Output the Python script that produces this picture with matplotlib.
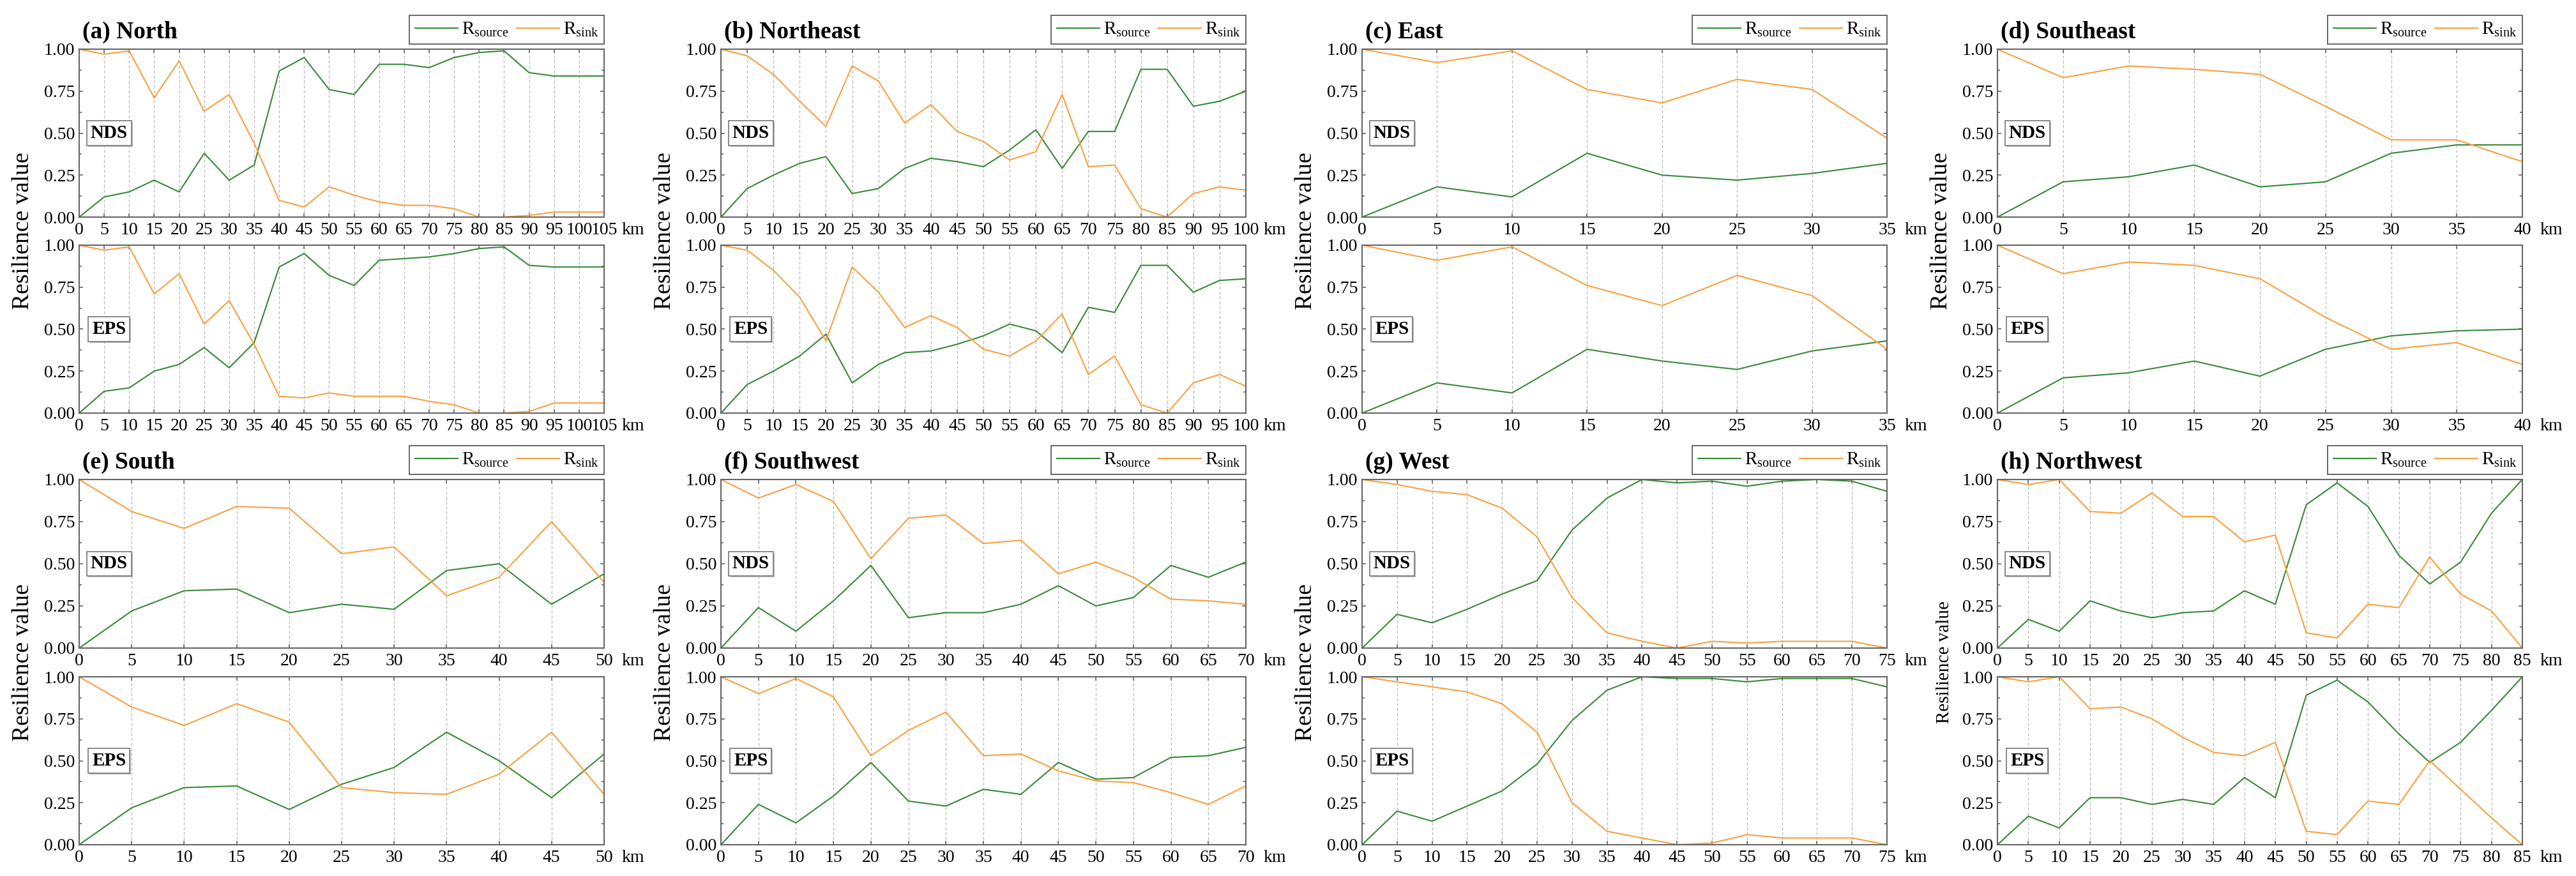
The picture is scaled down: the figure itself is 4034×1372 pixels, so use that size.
import numpy as np
import matplotlib
matplotlib.use("Agg")
import matplotlib.pyplot as plt
from matplotlib.ticker import MultipleLocator, FormatStrFormatter
from matplotlib import patheffects

plt.rcParams['font.family'] = ['Liberation Serif', 'DejaVu Serif']
plt.rcParams['mathtext.fontset'] = 'custom'
plt.rcParams['mathtext.rm'] = 'Liberation Serif'
plt.rcParams['mathtext.it'] = 'Liberation Serif:italic'
plt.rcParams['mathtext.bf'] = 'Liberation Serif:bold'

# ---- data ----
north_km = list(range(0, 110, 5))
north_nds_source = [0.00, 0.12, 0.15, 0.22, 0.15, 0.38, 0.22, 0.31, 0.87, 0.95, 0.76, 0.73, 0.91, 0.91, 0.89, 0.95, 0.98, 0.99, 0.86, 0.84, 0.84, 0.84]
north_nds_sink = [1.00, 0.97, 0.99, 0.71, 0.93, 0.63, 0.73, 0.44, 0.10, 0.06, 0.18, 0.13, 0.09, 0.07, 0.07, 0.05, 0.00, 0.00, 0.01, 0.03, 0.03, 0.03]
north_eps_source = [0.00, 0.13, 0.15, 0.25, 0.29, 0.39, 0.27, 0.42, 0.87, 0.95, 0.82, 0.76, 0.91, 0.92, 0.93, 0.95, 0.98, 0.99, 0.88, 0.87, 0.87, 0.87]
north_eps_sink = [1.00, 0.97, 0.99, 0.71, 0.83, 0.53, 0.67, 0.41, 0.10, 0.09, 0.12, 0.10, 0.10, 0.10, 0.07, 0.05, 0.00, 0.00, 0.01, 0.06, 0.06, 0.06]

ne_km = list(range(0, 105, 5))
ne_nds_source = [0.00, 0.17, 0.25, 0.32, 0.36, 0.14, 0.17, 0.29, 0.35, 0.33, 0.30, 0.40, 0.52, 0.29, 0.51, 0.51, 0.88, 0.88, 0.66, 0.69, 0.75]
ne_nds_sink = [1.00, 0.96, 0.85, 0.69, 0.54, 0.90, 0.81, 0.56, 0.67, 0.51, 0.45, 0.34, 0.39, 0.73, 0.30, 0.31, 0.05, 0.00, 0.14, 0.18, 0.16]
ne_eps_source = [0.00, 0.17, 0.25, 0.34, 0.47, 0.18, 0.29, 0.36, 0.37, 0.41, 0.46, 0.53, 0.49, 0.36, 0.63, 0.60, 0.88, 0.88, 0.72, 0.79, 0.80]
ne_eps_sink = [1.00, 0.97, 0.85, 0.69, 0.43, 0.87, 0.72, 0.51, 0.58, 0.51, 0.38, 0.34, 0.43, 0.59, 0.23, 0.34, 0.05, 0.00, 0.18, 0.23, 0.16]

east_km = list(range(0, 40, 5))
east_nds_source = [0.00, 0.18, 0.12, 0.38, 0.25, 0.22, 0.26, 0.32]
east_nds_sink = [1.00, 0.92, 0.99, 0.76, 0.68, 0.82, 0.76, 0.47]
east_eps_source = [0.00, 0.18, 0.12, 0.38, 0.31, 0.26, 0.37, 0.43]
east_eps_sink = [1.00, 0.91, 0.99, 0.76, 0.64, 0.82, 0.70, 0.38]

se_km = list(range(0, 45, 5))
se_nds_source = [0.00, 0.21, 0.24, 0.31, 0.18, 0.21, 0.38, 0.43, 0.43]
se_nds_sink = [1.00, 0.83, 0.90, 0.88, 0.85, 0.66, 0.46, 0.46, 0.33]
se_eps_source = [0.00, 0.21, 0.24, 0.31, 0.22, 0.38, 0.46, 0.49, 0.50]
se_eps_sink = [1.00, 0.83, 0.90, 0.88, 0.80, 0.57, 0.38, 0.42, 0.29]

south_km = list(range(0, 55, 5))
south_nds_source = [0.00, 0.22, 0.34, 0.35, 0.21, 0.26, 0.23, 0.46, 0.50, 0.26, 0.44]
south_nds_sink = [1.00, 0.81, 0.71, 0.84, 0.83, 0.56, 0.60, 0.31, 0.42, 0.75, 0.39]
south_eps_source = [0.00, 0.22, 0.34, 0.35, 0.21, 0.36, 0.46, 0.67, 0.50, 0.28, 0.54]
south_eps_sink = [1.00, 0.82, 0.71, 0.84, 0.73, 0.34, 0.31, 0.30, 0.42, 0.67, 0.30]

sw_km = list(range(0, 75, 5))
sw_nds_source = [0.00, 0.24, 0.10, 0.28, 0.49, 0.18, 0.21, 0.21, 0.26, 0.37, 0.25, 0.30, 0.49, 0.42, 0.51]
sw_nds_sink = [1.00, 0.89, 0.97, 0.87, 0.53, 0.77, 0.79, 0.62, 0.64, 0.44, 0.51, 0.42, 0.29, 0.28, 0.26]
sw_eps_source = [0.00, 0.24, 0.13, 0.29, 0.49, 0.26, 0.23, 0.33, 0.30, 0.49, 0.39, 0.40, 0.52, 0.53, 0.58]
sw_eps_sink = [1.00, 0.90, 0.99, 0.88, 0.53, 0.68, 0.79, 0.53, 0.54, 0.44, 0.38, 0.37, 0.31, 0.24, 0.35]

west_km = list(range(0, 80, 5))
west_nds_source = [0.00, 0.20, 0.15, 0.23, 0.32, 0.40, 0.70, 0.89, 1.00, 0.98, 0.99, 0.96, 0.99, 1.00, 0.99, 0.93]
west_nds_sink = [1.00, 0.97, 0.93, 0.91, 0.83, 0.66, 0.30, 0.09, 0.04, 0.00, 0.04, 0.03, 0.04, 0.04, 0.04, 0.00]
west_eps_source = [0.00, 0.20, 0.14, 0.23, 0.32, 0.48, 0.74, 0.92, 1.00, 0.99, 0.99, 0.97, 0.99, 0.99, 0.99, 0.94]
west_eps_sink = [1.00, 0.97, 0.94, 0.91, 0.84, 0.67, 0.25, 0.08, 0.04, 0.00, 0.01, 0.06, 0.04, 0.04, 0.04, 0.00]

nw_km = list(range(0, 90, 5))
nw_nds_source = [0.00, 0.17, 0.10, 0.28, 0.22, 0.18, 0.21, 0.22, 0.34, 0.26, 0.85, 0.98, 0.84, 0.55, 0.38, 0.51, 0.80, 1.00]
nw_nds_sink = [1.00, 0.97, 1.00, 0.81, 0.80, 0.92, 0.78, 0.78, 0.63, 0.67, 0.09, 0.06, 0.26, 0.24, 0.54, 0.32, 0.22, 0.00]
nw_eps_source = [0.00, 0.17, 0.10, 0.28, 0.28, 0.24, 0.27, 0.24, 0.40, 0.28, 0.89, 0.98, 0.85, 0.66, 0.49, 0.61, 0.80, 1.00]
nw_eps_sink = [1.00, 0.97, 1.00, 0.81, 0.82, 0.75, 0.64, 0.55, 0.53, 0.61, 0.08, 0.06, 0.26, 0.24, 0.50, 0.33, 0.16, 0.00]

titles = ["(a) North", "(b) Northeast", "(c) East", "(d) Southeast",
          "(e) South", "(f) Southwest", "(g) West", "(h) Northwest"]
panels = [
    (north_km, north_nds_source, north_nds_sink, north_eps_source, north_eps_sink),
    (ne_km, ne_nds_source, ne_nds_sink, ne_eps_source, ne_eps_sink),
    (east_km, east_nds_source, east_nds_sink, east_eps_source, east_eps_sink),
    (se_km, se_nds_source, se_nds_sink, se_eps_source, se_eps_sink),
    (south_km, south_nds_source, south_nds_sink, south_eps_source, south_eps_sink),
    (sw_km, sw_nds_source, sw_nds_sink, sw_eps_source, sw_eps_sink),
    (west_km, west_nds_source, west_nds_sink, west_eps_source, west_eps_sink),
    (nw_km, nw_nds_source, nw_nds_sink, nw_eps_source, nw_eps_sink),
]

GREEN = '#378a37'
ORANGE = '#f9a03f'
SPINE = '#666666'

W, H = 4034, 1372
fig = plt.figure(figsize=(W / 100, H / 100), dpi=100)

# axes edges in pixels
lefts = [124, 1129, 2133, 3128]
rights = [946, 1951, 2955, 3950]
rows = [(77, 340, 384, 647), (751, 1015, 1060, 1323)]


def add_px_axes(l, r, t, b):
    return fig.add_axes([l / W, 1 - b / H, (r - l) / W, (b - t) / H])


def style(ax, km, tag):
    ax.set_xlim(0, km[-1])
    ax.set_ylim(0, 1)
    ax.set_xticks(km)
    ax.set_yticks([0, 0.25, 0.5, 0.75, 1.0])
    ax.yaxis.set_major_formatter(FormatStrFormatter('%.2f'))
    ax.yaxis.set_minor_locator(MultipleLocator(0.125))
    ax.tick_params(which='both', direction='in', top=True, right=True,
                   color=SPINE, width=1.2, labelsize=20)
    ax.tick_params(which='major', length=4.5)
    ax.tick_params(which='minor', length=3)
    ax.tick_params(axis='x', pad=6)
    ax.tick_params(axis='y', pad=5)
    ax.grid(axis='x', color='#b0b0b0', ls=(0, (4, 3)), lw=0.8)
    ax.set_axisbelow(True)
    for s in ax.spines.values():
        s.set_color(SPINE)
        s.set_linewidth(1.5)
    ax.annotate('km', xy=(1, 0), xycoords='axes fraction', xytext=(20, -6),
                textcoords='offset points', ha='left', va='top', fontsize=20)
    t = ax.text(0.057, 0.5, tag, transform=ax.transAxes, ha='center', va='center',
                fontsize=21, fontweight='bold',
                bbox=dict(boxstyle='square,pad=0.2', fc='white', ec='#808080', lw=1.3))
    t.get_bbox_patch().set_path_effects(
        [patheffects.SimplePatchShadow(offset=(1.5, -1.5), shadow_rgbFace='#bbbbbb', alpha=1),
         patheffects.Normal()])


for i, (km, nds_src, nds_snk, eps_src, eps_snk) in enumerate(panels):
    r, c = divmod(i, 4)
    t1, b1, t2, b2 = rows[r]
    l, rr = lefts[c], rights[c]
    ax1 = add_px_axes(l, rr, t1, b1)
    ax2 = add_px_axes(l, rr, t2, b2)

    ax1.plot(km, nds_src, color=GREEN, lw=1.5, clip_on=False, label=r'R$_{\mathrm{source}}$')
    ax1.plot(km, nds_snk, color=ORANGE, lw=1.5, clip_on=False, label=r'R$_{\mathrm{sink}}$')
    ax2.plot(km, eps_src, color=GREEN, lw=1.5, clip_on=False)
    ax2.plot(km, eps_snk, color=ORANGE, lw=1.5, clip_on=False)
    style(ax1, km, 'NDS')
    style(ax2, km, 'EPS')

    leg = ax1.legend(loc='lower right', bbox_to_anchor=(1.0, 1.03), borderaxespad=0,
                     ncol=2, fontsize=21, frameon=True, fancybox=False,
                     handlelength=2.3, handletextpad=0.2, columnspacing=0.4,
                     borderpad=0.3)
    leg.get_frame().set_edgecolor('#333333')
    leg.get_frame().set_linewidth(1.3)

    ax1.annotate(titles[i], xy=(0, 1), xycoords='axes fraction', xytext=(3.5, 12),
                 textcoords='offset points', ha='left', va='baseline',
                 fontsize=27, fontweight='bold')

    yc = (b1 + t2) / 2
    if i == 7:
        fig.text((l - 83) / W, 1 - yc / H, 'Resilience value', rotation=90,
                 ha='center', va='center', fontsize=21)
    else:
        fig.text((l - 88) / W, 1 - yc / H, 'Resilience value', rotation=90,
                 ha='center', va='center', fontsize=27)

fig.savefig('out.png', dpi=100)
